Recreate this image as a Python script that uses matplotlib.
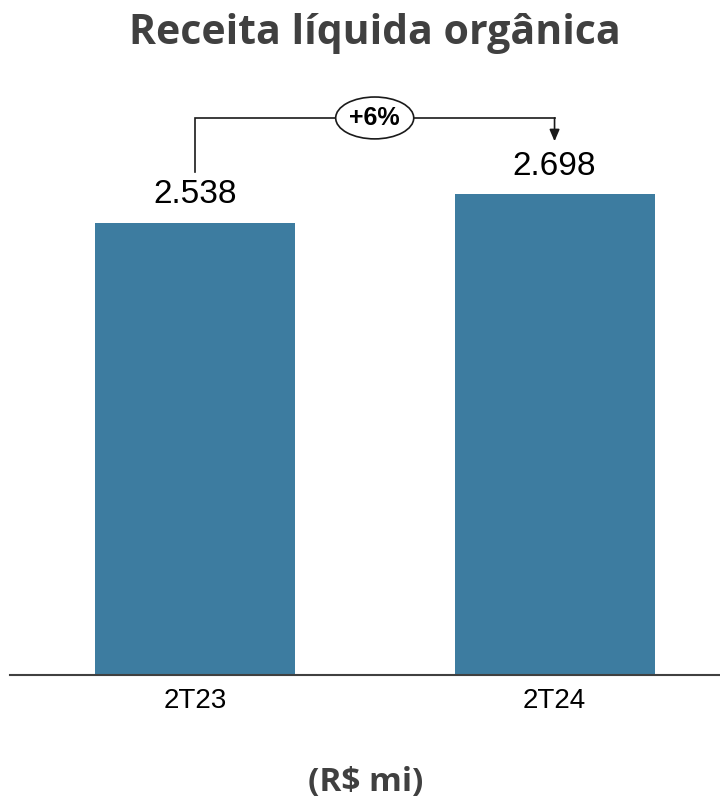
import matplotlib
matplotlib.use("Agg")
import matplotlib.pyplot as plt
from matplotlib.patches import Ellipse

# data
categories = ["2T23", "2T24"]
values = [2538, 2698]
value_labels = ["2.538", "2.698"]
growth_label = "+6%"
title = "Receita líquida orgânica"
unit_label = "(R$ mi)"

bar_color = "#3d7ca0"
text_dark = "#404040"

fig = plt.figure(figsize=(7.2, 8.02), dpi=100)
ax = fig.add_axes([10 / 720, 127 / 802, 710 / 720, 595 / 802])

x = list(range(len(categories)))
ax.bar(x, values, width=0.556, color=bar_color)

ax.set_xlim(-0.514, 1.46)
ax.set_ylim(0, 3339)

for s in ["top", "right", "left"]:
    ax.spines[s].set_visible(False)
ax.spines["bottom"].set_color(text_dark)
ax.spines["bottom"].set_linewidth(1.5)
ax.set_yticks([])
ax.set_xticks(x)
ax.set_xticklabels(categories, fontsize=20, family="Liberation Sans", color="black")
ax.tick_params(axis="x", length=0, pad=9)

# value labels
for xi, v, lab in zip(x, values, value_labels):
    ax.text(xi, v + 70, lab, ha="center", va="bottom", fontsize=24,
            family="Liberation Sans", color="black")

# growth bracket
y_top = 3126
ax.plot([x[0], x[0], x[1]], [values[0] + 286, y_top, y_top], color="#1a1a1a", lw=1.2,
        solid_joinstyle="miter")
ax.annotate("", xy=(x[1], values[1] + 297), xytext=(x[1], y_top),
            arrowprops=dict(arrowstyle="-|>,head_length=0.7,head_width=0.3",
                            color="#1a1a1a", lw=1.2, shrinkA=0, shrinkB=0))
ell = Ellipse((0.5, y_top), 0.217, 235, facecolor="white", edgecolor="#1a1a1a", lw=1.2,
              zorder=3)
ax.add_patch(ell)
ax.text(0.5, y_top, growth_label, ha="center", va="center", fontsize=18,
        fontweight="bold", family="Liberation Sans", color="black", zorder=4)

fig.text(375 / 720, 1 - 33 / 802, title, ha="center", va="center", fontsize=29.5,
         fontweight="bold", family="Open Sans", color=text_dark)
fig.text(366 / 720, 1 - 783 / 802, unit_label, ha="center", va="center", fontsize=24,
         fontweight="bold", family="Open Sans", color=text_dark)

fig.savefig("out.png", dpi=100)
